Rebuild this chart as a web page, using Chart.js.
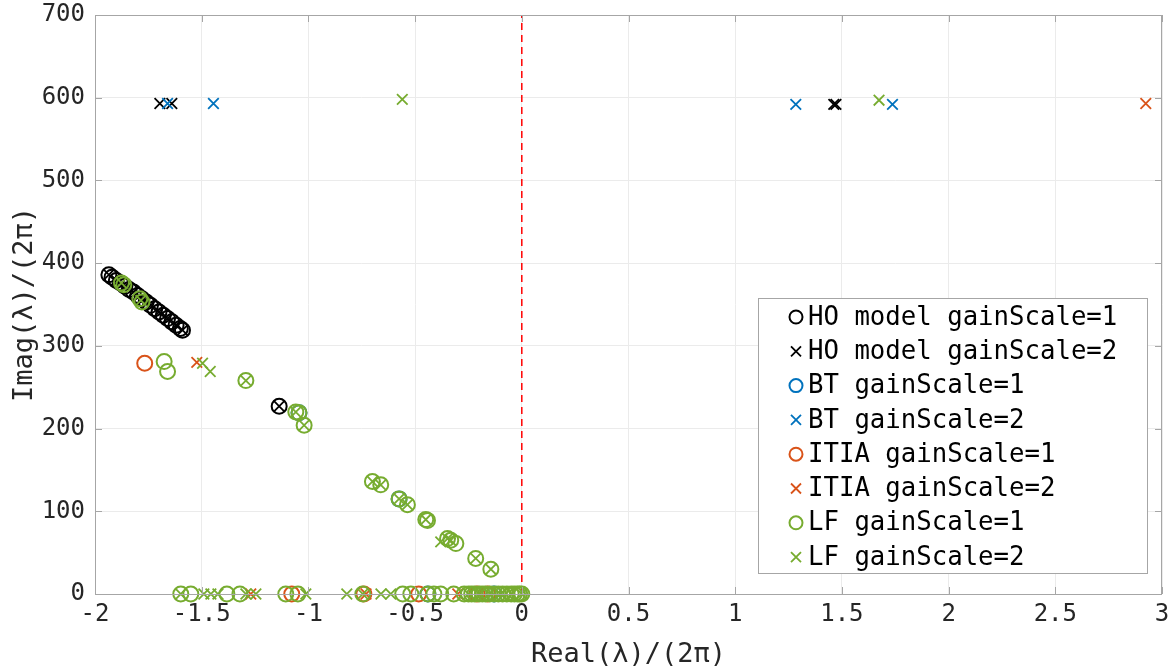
<!DOCTYPE html>
<html>
<head>
<meta charset="utf-8">
<script src="https://cdn.jsdelivr.net/npm/chart.js"></script>
<style>
  body { margin: 0; background: #fff; }
  canvas { display: block; }
</style>
</head>
<body>
<canvas id="poles" width="1175" height="671"></canvas>
<script>
// tick values
const xTicks = [-2, -1.5, -1, -0.5, 0, 0.5, 1, 1.5, 2, 2.5, 3];
const yTicks = [0, 100, 200, 300, 400, 500, 600, 700];

// poles [Real/(2pi), Imag/(2pi)]
const hoGain1 = [
  [-1.935, 386], [-1.92, 383], [-1.90, 379], [-1.88, 376], [-1.86, 372], [-1.84, 368],
  [-1.82, 365], [-1.80, 361], [-1.78, 357], [-1.76, 353], [-1.74, 349], [-1.72, 345],
  [-1.70, 341], [-1.68, 337], [-1.66, 333], [-1.64, 329], [-1.62, 325], [-1.60, 321],
  [-1.59, 319], [-1.137, 227]
];
const hoGain2 = [
  [-1.935, 386], [-1.90, 379], [-1.86, 372], [-1.82, 365], [-1.78, 357], [-1.74, 349],
  [-1.70, 341], [-1.66, 333], [-1.62, 325], [-1.59, 319], [-1.137, 227],
  [-1.696, 593], [-1.64, 593], [1.462, 592], [1.472, 592]
];
const btGain1 = [[-0.575, 115], [-1.044, 219], [-0.44, 0], [-0.13, 0]];
const btGain2 = [[-1.66, 593], [-1.445, 593], [1.284, 592], [1.737, 592]];
const itiaGain1 = [[-1.767, 279], [-1.078, 0], [-0.74, 0], [-0.483, 0], [-0.21, 0], [-0.16, 0]];
const itiaGain2 = [[-1.523, 280], [2.924, 593], [-1.27, 0], [-0.73, 0], [-0.30, 0]];
const lfGain1 = [
  [-1.876, 376], [-1.865, 374], [-1.79, 357], [-1.78, 353], [-1.676, 281], [-1.66, 269],
  [-1.293, 258], [-1.059, 220], [-1.044, 219], [-1.02, 204], [-0.70, 136], [-0.661, 132],
  [-0.575, 115], [-0.536, 108], [-0.45, 90], [-0.442, 89], [-0.348, 67], [-0.333, 65],
  [-0.309, 61], [-0.216, 43], [-0.145, 30],
  [-1.598, 0], [-1.551, 0], [-1.382, 0], [-1.321, 0], [-1.106, 0], [-1.049, 0], [-0.745, 0],
  [-0.558, 0], [-0.52, 0], [-0.44, 0], [-0.412, 0], [-0.38, 0], [-0.319, 0], [-0.27, 0],
  [-0.25, 0], [-0.235, 0], [-0.22, 0], [-0.2, 0], [-0.185, 0], [-0.17, 0], [-0.15, 0],
  [-0.13, 0], [-0.11, 0], [-0.09, 0], [-0.07, 0], [-0.05, 0], [-0.035, 0], [-0.02, 0],
  [-0.01, 0], [0, 0]
];
const lfGain2 = [
  [-1.876, 376], [-1.785, 355], [-1.496, 279], [-1.46, 269], [-1.293, 258], [-1.059, 220],
  [-1.02, 204], [-0.70, 136], [-0.661, 132], [-0.575, 115], [-0.536, 108], [-0.45, 90],
  [-0.38, 63], [-0.348, 67], [-0.333, 65], [-0.216, 43], [-0.145, 30],
  [-0.56, 598], [1.674, 597],
  [-1.598, 0], [-1.49, 0], [-1.457, 0], [-1.424, 0], [-1.293, 0], [-1.246, 0], [-1.012, 0],
  [-0.82, 0], [-0.745, 0], [-0.66, 0], [-0.614, 0], [-0.25, 0], [-0.2, 0], [-0.15, 0],
  [-0.1, 0], [-0.05, 0], [0, 0]
];
const zeroLine = [[0, 0], [0, 700]];

const BLACK = "#000000", BLUE = "#0072BD", ORANGE = "#D95319", GREEN = "#77AC30";
const FONT = "'DejaVu Sans Mono', monospace";

function pts(arr) {
  return arr.map(([x, y]) => ({ x, y }));
}

function series(label, arr, color, marker, order) {
  return {
    label,
    data: pts(arr),
    borderColor: color,
    backgroundColor: "rgba(0,0,0,0)",
    pointStyle: marker === "o" ? "circle" : "crossRot",
    pointRadius: 7.5,
    pointBorderWidth: marker === "o" ? 2 : 1.8,
    pointHoverRadius: 7.5,
    showLine: false,
    clip: false,
    order,
  };
}

const datasets = [
  series("HO model gainScale=1", hoGain1, BLACK, "o", 8),
  series("HO model gainScale=2", hoGain2, BLACK, "x", 7),
  series("BT gainScale=1", btGain1, BLUE, "o", 6),
  series("BT gainScale=2", btGain2, BLUE, "x", 5),
  series("ITIA gainScale=1", itiaGain1, ORANGE, "o", 4),
  series("ITIA gainScale=2", itiaGain2, ORANGE, "x", 3),
  series("LF gainScale=1", lfGain1, GREEN, "o", 2),
  series("LF gainScale=2", lfGain2, GREEN, "x", 1),
  {
    type: "line",
    label: "zero",
    data: pts(zeroLine),
    borderColor: "#ff0000",
    borderWidth: 1.5,
    borderDash: [7, 5],
    pointRadius: 0,
    clip: false,
    order: 9,
  },
];

// box round the axes, with MATLAB-style inward ticks
const axesBox = {
  id: "axesBox",
  afterDatasetsDraw(chart) {
    const { ctx, chartArea: a, scales } = chart;
    ctx.save();
    ctx.strokeStyle = "#a6a6a6";
    ctx.lineWidth = 1;
    ctx.strokeRect(a.left + 0.5, a.top + 0.5, a.right - a.left - 1, a.bottom - a.top);
    ctx.beginPath();
    xTicks.forEach((v) => {
      const px = Math.round(scales.x.getPixelForValue(v)) + 0.5;
      ctx.moveTo(px, a.bottom); ctx.lineTo(px, a.bottom - 7);
      ctx.moveTo(px, a.top); ctx.lineTo(px, a.top + 7);
    });
    yTicks.forEach((v) => {
      const py = Math.round(scales.y.getPixelForValue(v)) + 0.5;
      ctx.moveTo(a.left, py); ctx.lineTo(a.left + 7, py);
      ctx.moveTo(a.right, py); ctx.lineTo(a.right - 7, py);
    });
    ctx.stroke();
    ctx.restore();
  },
};

// boxed legend inside the plot, lower right
const boxLegend = {
  id: "boxLegend",
  afterDraw(chart) {
    const { ctx, chartArea: a } = chart;
    const w = 389, h = 275;
    const x0 = a.right - 15 - w, y0 = a.bottom - 21 - h;
    ctx.save();
    ctx.fillStyle = "#ffffff";
    ctx.fillRect(x0, y0, w, h);
    ctx.strokeStyle = "#a6a6a6";
    ctx.lineWidth = 1;
    ctx.strokeRect(x0 + 0.5, y0 + 0.5, w, h);
    ctx.font = "25.7px " + FONT;
    ctx.textBaseline = "middle";
    const items = chart.data.datasets.filter((d) => d.label !== "zero");
    items.forEach((d, i) => {
      const cy = y0 + 19 + i * 34.3;
      const cx = x0 + 38;
      ctx.strokeStyle = d.borderColor;
      ctx.lineWidth = d.pointBorderWidth;
      ctx.beginPath();
      if (d.pointStyle === "circle") {
        ctx.arc(cx, cy, 6.5, 0, Math.PI * 2);
      } else {
        ctx.moveTo(cx - 5, cy - 5); ctx.lineTo(cx + 5, cy + 5);
        ctx.moveTo(cx + 5, cy - 5); ctx.lineTo(cx - 5, cy + 5);
      }
      ctx.stroke();
      ctx.fillStyle = "#000000";
      ctx.fillText(d.label, x0 + 50, cy + 1);
    });
    ctx.restore();
  },
};

new Chart(document.getElementById("poles").getContext("2d"), {
  type: "scatter",
  data: { datasets },
  plugins: [axesBox, boxLegend],
  options: {
    responsive: false,
    animation: false,
    layout: { padding: { top: 15, right: 13, left: 0, bottom: 0 } },
    plugins: {
      legend: { display: false },
      tooltip: { enabled: false },
    },
    scales: {
      x: {
        type: "linear",
        min: -2,
        max: 3,
        afterBuildTicks: (s) => { s.ticks = xTicks.map((v) => ({ value: v })); },
        afterFit: (s) => { s.height = 77; s.paddingLeft = 0; s.paddingRight = 0; },
        ticks: {
          callback: (v) => String(v),
          font: { family: FONT, size: 24 },
          color: "#262626",
          padding: 6,
          maxRotation: 0,
        },
        grid: { color: "#ebebeb", drawTicks: false },
        border: { display: false },
        title: {
          display: true,
          text: "Real(λ)/(2π)",
          font: { family: FONT, size: 27 },
          color: "#262626",
          padding: { top: 0, bottom: 0 },
        },
      },
      y: {
        type: "linear",
        min: 0,
        max: 700,
        afterBuildTicks: (s) => { s.ticks = yTicks.map((v) => ({ value: v })); },
        afterFit: (s) => { s.width = 95; s.paddingTop = 0; s.paddingBottom = 0; },
        ticks: {
          callback: (v) => String(v),
          font: { family: FONT, size: 24 },
          color: "#262626",
          padding: 10,
        },
        grid: { color: "#ebebeb", drawTicks: false },
        border: { display: false },
        title: {
          display: true,
          text: "Imag(λ)/(2π)",
          font: { family: FONT, size: 27 },
          color: "#262626",
          padding: { top: 9, bottom: 0 },
        },
      },
    },
  },
});
</script>
</body>
</html>
